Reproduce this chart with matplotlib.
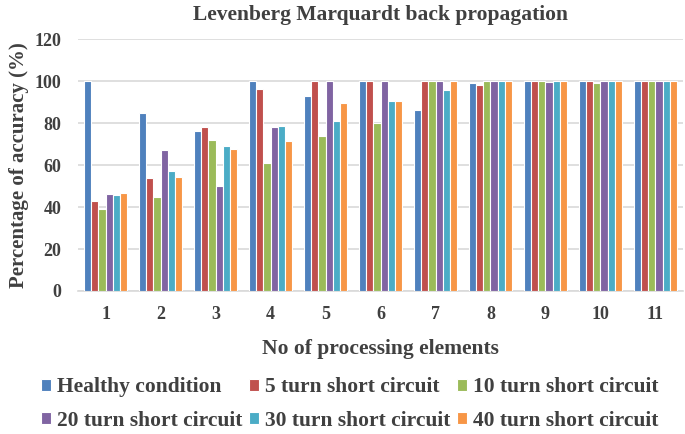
import matplotlib
matplotlib.use("Agg")
import matplotlib.pyplot as plt
import numpy as np

# percentage of accuracy, one list per fault condition
elements = ["1", "2", "3", "4", "5", "6", "7", "8", "9", "10", "11"]
healthy = [100, 85, 76, 100, 93, 100, 86, 99, 100, 100, 100]
turn5 = [43, 54, 78, 96, 100, 100, 100, 98, 100, 100, 100]
turn10 = [39, 45, 72, 61, 74, 80, 100, 100, 100, 99, 100]
turn20 = [46.3, 67, 50, 78, 100, 100, 100, 100, 99.5, 100, 100]
turn30 = [45.7, 57, 69.2, 78.7, 81, 90.3, 95.6, 100, 100, 100, 100]
turn40 = [46.7, 54.3, 67.5, 71.3, 89.5, 90.3, 100, 100, 100, 100, 100]

series = [healthy, turn5, turn10, turn20, turn30, turn40]
labels = ["Healthy condition", "5 turn short circuit", "10 turn short circuit",
          "20 turn short circuit", "30 turn short circuit", "40 turn short circuit"]
colors = ["#4F81BD", "#C0504D", "#9BBB59", "#8064A2", "#4BACC6", "#F79646"]

plt.rcParams["font.family"] = ["Liberation Serif", "DejaVu Serif"]
plt.rcParams["font.weight"] = "bold"

fig = plt.figure(figsize=(6.85, 4.34), dpi=100)
ax = fig.add_axes([0.114, 0.3295, 0.883, 0.5805])

x = np.arange(1, len(elements) + 1)
width = 0.132
bars = []
for i, (vals, lab, col) in enumerate(zip(series, labels, colors)):
    offset = (i - 2.5) * width
    b = ax.bar(x + offset, vals, width, color=col, edgecolor="white", linewidth=0.8, label=lab, zorder=3)
    bars.append(b)

ax.set_xlim(0.5, 11.5)
ax.set_ylim(0, 120)
ax.set_yticks(range(0, 121, 20))
ax.set_xticks(x)
ax.set_xticklabels(elements)
ax.tick_params(axis="both", length=0, labelsize=13, colors="#404040")
ax.tick_params(axis="y", pad=12)
ax.tick_params(axis="x", pad=11)
for t in ax.get_xticklabels() + ax.get_yticklabels():
    t.set_fontweight("bold")

ax.grid(axis="y", color="#d9d9d9", linewidth=1.2, zorder=0)
for s in ["top", "right", "left"]:
    ax.spines[s].set_visible(False)
ax.spines["bottom"].set_color("#d9d9d9")
ax.spines["bottom"].set_linewidth(1.2)

ax.set_title("Levenberg Marquardt back propagation", fontsize=15.5, fontweight="bold", color="#404040", pad=14)
ax.set_xlabel("No of processing elements", fontsize=15.5, fontweight="bold", color="#404040", labelpad=11)
ax.set_ylabel("Percentage of accuracy (%)", fontsize=15, fontweight="bold", color="#404040", labelpad=4)

# matplotlib fills legend columns first, reorder so rows read left to right
order = [0, 3, 1, 4, 2, 5]
leg = fig.legend([bars[i] for i in order], [labels[i] for i in order],
                 loc="lower center", bbox_to_anchor=(0.51, -0.037), ncol=3, frameon=False,
                 fontsize=15.5, handlelength=0.5, handleheight=0.5, handletextpad=0.25,
                 columnspacing=0.3, labelspacing=0.62)
for t in leg.get_texts():
    t.set_color("#404040")
    t.set_fontweight("bold")

fig.savefig("out.png", dpi=100)
